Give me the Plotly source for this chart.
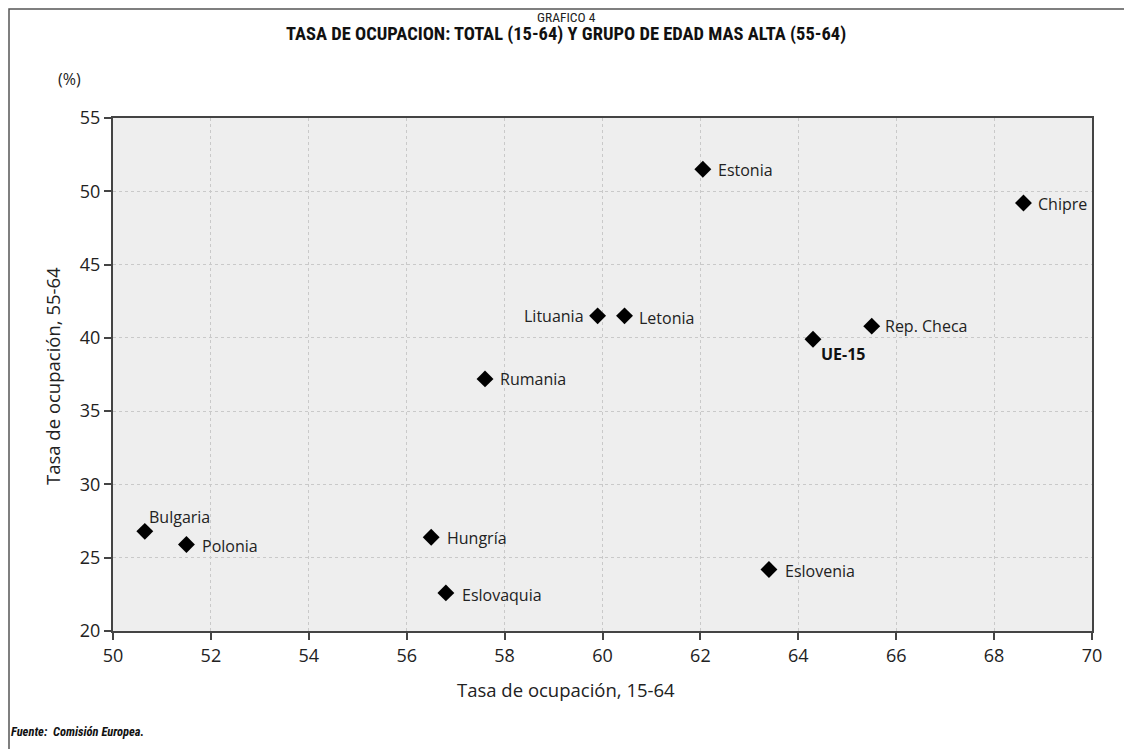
import plotly.graph_objects as go

countries = ["Bulgaria", "Polonia", "Hungría", "Eslovaquia", "Eslovenia", "Rumania",
             "Lituania", "Letonia", "Estonia", "UE-15", "Rep. Checa", "Chipre"]
total_15_64 = [50.65, 51.5, 56.5, 56.8, 63.4, 57.6, 59.9, 60.45, 62.05, 64.3, 65.5, 68.6]
older_55_64 = [26.8, 25.9, 26.4, 22.6, 24.2, 37.2, 41.5, 41.5, 51.5, 39.9, 40.8, 49.2]
x_ticks = [50, 52, 54, 56, 58, 60, 62, 64, 66, 68, 70]
y_ticks = [20, 25, 30, 35, 40, 45, 50, 55]

# label placement: (xanchor, xshift, yshift, bold)
label_style = {
    "Bulgaria": ("left", 2, 14, False),
    "Polonia": ("left", 14, -1, False),
    "Hungría": ("left", 14, -1, False),
    "Eslovaquia": ("left", 14, -2, False),
    "Eslovenia": ("left", 14, -2, False),
    "Rumania": ("left", 13, 0, False),
    "Lituania": ("right", -12, 0, False),
    "Letonia": ("left", 12, -2, False),
    "Estonia": ("left", 13, -1, False),
    "UE-15": ("left", 6, -15, True),
    "Rep. Checa": ("left", 11, 0, False),
    "Chipre": ("left", 13, -1, False),
}

FONT = "Open Sans, Noto Sans, sans-serif"
COND = "Liberation Sans Narrow, Roboto Condensed, Arial Narrow, Liberation Sans, sans-serif"

OFF = 8  # page body margin
W, H = 1132 - OFF, 749 - OFF
L, R, T, B = 113 - OFF, 1092 - OFF, 118 - OFF, 631 - OFF

def px(xpage):
    return (xpage - OFF - L) / (R - L)

def py(ypage):
    return (B - (ypage - OFF)) / (B - T)

fig = go.Figure()
fig.add_trace(go.Scatter(
    x=total_15_64, y=older_55_64, mode="markers",
    marker=dict(symbol="diamond", size=13, color="black"),
    hoverinfo="text", text=countries, showlegend=False,
))

annotations = []
for name, xv, yv in zip(countries, total_15_64, older_55_64):
    xa, xs, ys, bold = label_style[name]
    annotations.append(dict(
        x=xv, y=yv, xref="x", yref="y", showarrow=False,
        text=f"<b>{name}</b>" if bold else name,
        xanchor=xa, yanchor="middle", xshift=xs, yshift=ys,
        font=dict(family=FONT, size=16, color="#111" if bold else "#222"),
    ))

annotations += [
    dict(x=px(566), y=py(17), xref="paper", yref="paper", showarrow=False,
         text="GRAFICO 4", xanchor="center", yanchor="middle",
         font=dict(family=COND, size=13.5, color="#222")),
    dict(x=px(566), y=py(34), xref="paper", yref="paper", showarrow=False,
         text="<b>TASA DE OCUPACION: TOTAL (15-64) Y GRUPO DE EDAD MAS ALTA (55-64)</b>",
         xanchor="center", yanchor="middle",
         font=dict(family=COND, size=18.5, color="#111")),
    dict(x=px(56), y=py(79), xref="paper", yref="paper", showarrow=False,
         text="(%)", xanchor="left", yanchor="middle",
         font=dict(family=FONT, size=16, color="#222")),
    dict(x=px(566), y=py(689), xref="paper", yref="paper", showarrow=False,
         text="Tasa de ocupación, 15-64", xanchor="center", yanchor="middle",
         font=dict(family=FONT, size=18.5, color="#222")),
    dict(x=px(52), y=py(376), xref="paper", yref="paper", showarrow=False,
         text="Tasa de ocupación, 55-64", xanchor="center", yanchor="middle",
         textangle=-90, font=dict(family=FONT, size=18.5, color="#222")),
    dict(x=px(9), y=py(731), xref="paper", yref="paper", showarrow=False,
         text="<b><i>Fuente:  Comisión Europea.</i></b>", xanchor="left", yanchor="middle",
         font=dict(family=COND, size=12.5, color="#111")),
]

fig.update_layout(
    width=W, height=H,
    margin=dict(l=L, r=W - R, t=T, b=H - B),
    paper_bgcolor="white",
    plot_bgcolor="#eeeeee",
    font=dict(family=FONT, color="#222"),
    annotations=annotations,
    shapes=[dict(type="rect", xref="paper", yref="paper",
                 x0=px(9), x1=px(1160), y0=py(9), y1=py(780),
                 line=dict(color="#555", width=1.5), layer="below")],
)
common = dict(
    ticks="outside", ticklen=7, tickwidth=2, tickcolor="#444",
    showline=True, linecolor="#444", linewidth=2, mirror=True,
    showgrid=True, gridcolor="#c9c9c9", griddash="dot", gridwidth=1, zeroline=False,
    tickfont=dict(family=FONT, size=18, color="#222"),
)
fig.update_xaxes(range=[50, 70], tickvals=x_ticks, **common)
fig.update_yaxes(range=[20, 55], tickvals=y_ticks, **common)

fig.write_html("out.html")
